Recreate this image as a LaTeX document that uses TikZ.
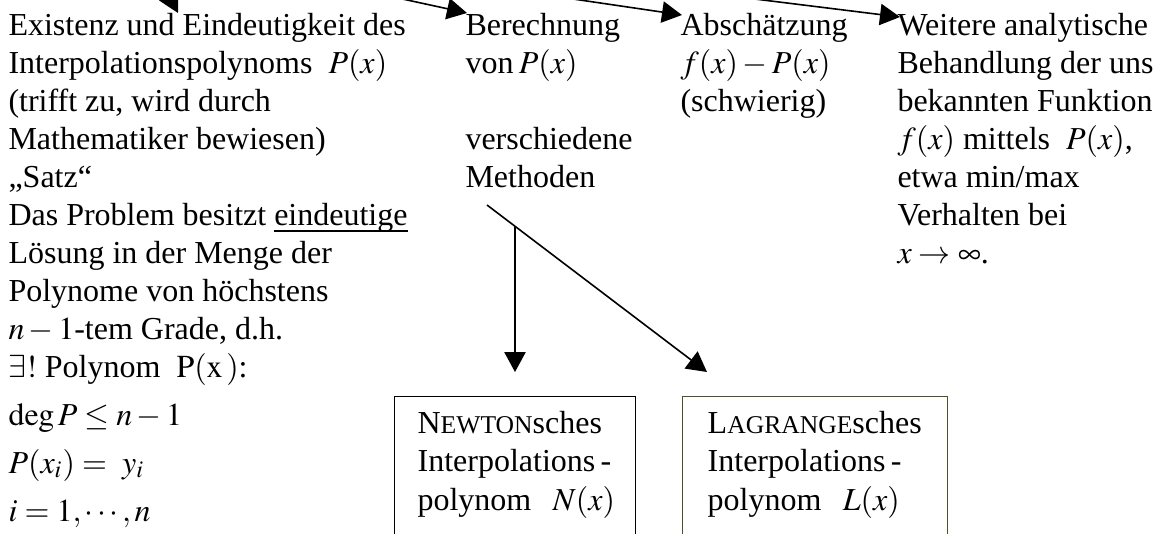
\documentclass[tikz,border=0pt]{standalone}
\usepackage{mathptmx}
\usepackage[no-math]{fontspec}
\setmainfont{Liberation Serif}
\usetikzlibrary{arrows.meta,calc}
\definecolor{olivebox}{RGB}{80,80,40}
\newcommand{\mysc}[1]{{\fontsize{9.6}{14.25}\selectfont #1}}
\newcommand{\myul}[1]{\setbox0\hbox{#1}\rlap{\rule[-2.6pt]{\wd0}{0.75pt}}\box0}
\begin{document}
\begin{tikzpicture}[x=0.375pt,y=-0.375pt,
  txt/.style={inner sep=0pt,anchor=base west,font=\fontsize{12}{14.25}\selectfont},
  arr/.style={-{Triangle[length=7.5pt,width=8pt]},line width=0.6pt},
  box/.style={draw,line width=0.5pt,anchor=north west,inner xsep=0pt,inner ysep=5.3pt,align=left,font=\fontsize{12}{14.6}\selectfont}]
\useasboundingbox (0,0) rectangle (1158,533);
\clip (0,0) rectangle (1158,533);

\node[txt] (exist) at (8,35) {\parbox[t]{170pt}{%
Existenz und Eindeutigkeit des\\
Interpolationspolynoms \ $P(x)$\\
(trifft zu, wird durch\\
Mathematiker bewiesen)\\
„Satz“\\
Das Problem besitzt \myul{eindeutige}\\
Lösung in der Menge der\\
Polynome von höchstens\\
$n-1$-tem Grade, d.h.\\
$\exists!$ Polynom \ $\mathrm{P}(\mathrm{x}\,)$:\\[3.75pt]
$\deg P \le n-1$\\[3.75pt]
$P(x_{i})= \ y_{i}$\\[3.75pt]
$i=1,\cdots,n$}};

\node[txt] (berech) at (465,35) {\parbox[t]{80pt}{%
Berechnung\\
von\,$P(x)$\\
\mbox{}\\
verschiedene\\
Methoden}};

\node[txt] (absch) at (680,35) {\parbox[t]{80pt}{%
Abschätzung\\
\ $f(x)-P(x)$\\
(schwierig)}};

\node[txt] (weitere) at (897,35) {\parbox[t]{100pt}{%
Weitere analytische\\
Behandlung der uns\\
bekannten Funktion\\
\ $f(x)$ mittels \ $P(x)$,\\
etwa min/max\\
Verhalten bei\\
\ $x\to\infty$.}};

\node[box,text width=90.4pt] (newton) at (394,396) {\leftskip=8.6pt\relax
N\mysc{EWTON}sches\\
Interpolations\,-\\
polynom \ $N(x)$\\[30pt]\mbox{}};

\node[box,draw=olivebox,text width=99.4pt] (lagrange) at (682,396) {\leftskip=9.4pt\relax
L\mysc{AGRANGE}sches\\
Interpolations\,-\\
polynom \ $L(x)$\\[30pt]\mbox{}};

% top arrows (sources above the visible area)
\coordinate (s1) at (150,-40);
\coordinate (s2) at (269,-30);
\coordinate (s3) at (376,-30);
\coordinate (s4) at (521,-30);
\coordinate (t1) at (178,13);
\coordinate (t2) at (467,13);
\coordinate (t3) at (682,15);
\coordinate (t4) at (900,17);
\draw[arr] (s1) -- (t1);
\draw[arr] (s2) -- (t2);
\draw[arr] (s3) -- (t3);
\draw[arr] (s4) -- (t4);

% arrows from "Methoden"
\coordinate (apex) at (487,205);
\coordinate (vstart) at (515,226);
\coordinate (tn) at (515,372);
\coordinate (tl) at (707,372);
\draw[arr] (apex) -- (tl);
\draw[arr] (vstart) -- (tn);
\end{tikzpicture}
\end{document}
